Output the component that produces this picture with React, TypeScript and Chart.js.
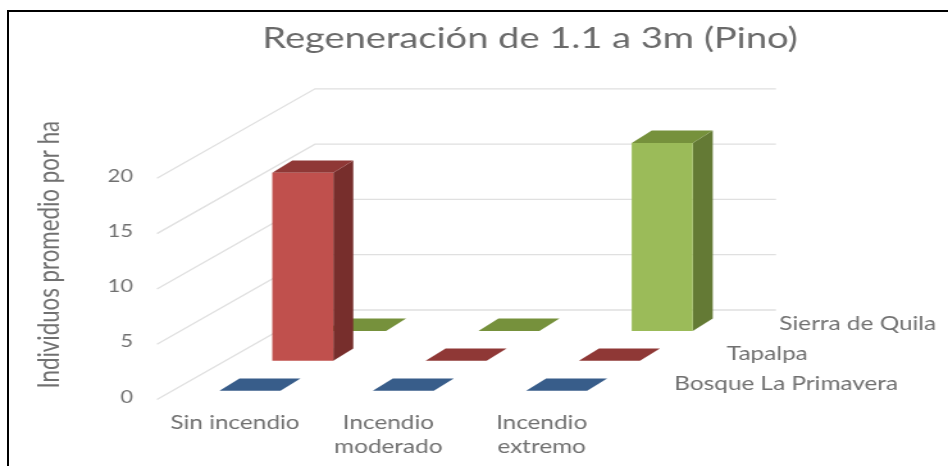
import React, { useEffect, useRef } from "react";
import { Chart, registerables } from "chart.js";

Chart.register(...registerables);

const chartTitle = "Regeneración de 1.1 a 3m (Pino)";
const valueAxisTitle = "Individuos promedio por ha";
const categories = ["Sin incendio", ["Incendio", "moderado"], ["Incendio", "extremo"]];
const seriesNames = ["Bosque La Primavera", "Tapalpa", "Sierra de Quila"];
const primavera = [0, 0, 0];
const tapalpa = [17, 0, 0];
const quila = [0, 0, 17];
const frontColors = ["#4F81BD", "#C0504D", "#9BBB59"];
const topColors = ["#385D8A", "#8F3836", "#76913C"];
const sideColors = ["#2F4E74", "#772E2C", "#647A35"];

// The reference is a horizontally stretched picture: draw narrow, then stretch the canvas.
const LOGICAL_W = 740;
const SX = 948 / LOGICAL_W;
const H = 467;
const lx = (x: number) => x / SX;

const TEXT = "#707070";
const FONT = "Lato";

const ROW_DX = lx(52.8);
const ROW_DY = -29.9;
const FIRST_DX = lx(15);
const FIRST_DY = -6.6;
const DEPTH_X = lx(20);
const DEPTH_Y = 12.3;

const poly = (ctx: CanvasRenderingContext2D, pts: number[][], color: string) => {
  ctx.fillStyle = color;
  ctx.beginPath();
  pts.forEach(([x, y], i) => (i ? ctx.lineTo(x, y) : ctx.moveTo(x, y)));
  ctx.closePath();
  ctx.fill();
};

const perspective = {
  id: "perspective",
  afterLayout(chart: any) {
    const t = chart.titleBlock;
    const c = lx(530);
    t.left = c - 300;
    t.right = c + 300;
  },
  beforeDatasetsDraw(chart: any) {
    const { ctx, scales } = chart;
    const y = scales.y;
    const fx = lx(157);
    const bx = lx(315);
    const ex = lx(776);
    ctx.save();
    ctx.strokeStyle = "#E0E0E0";
    ctx.lineWidth = 1.3;
    y.ticks.forEach((tick: any) => {
      const p = y.getPixelForValue(tick.value) + 2.2;
      ctx.beginPath();
      ctx.moveTo(fx, p);
      ctx.lineTo(bx, p - 89.5);
      ctx.lineTo(ex, p - 89.5);
      ctx.stroke();
    });
    ctx.fillStyle = TEXT;
    ctx.font = `19px ${FONT}`;
    ctx.textAlign = "left";
    ctx.textBaseline = "middle";
    const base = y.getPixelForValue(0);
    seriesNames.forEach((name, r) => {
      ctx.fillText(
        name,
        scales.x.right + lx(56) + r * lx(52.5),
        base + FIRST_DY + r * ROW_DY - 6.7
      );
    });
    ctx.restore();
  },
  beforeDatasetDraw(chart: any, args: any) {
    const { ctx } = chart;
    const r = args.index;
    ctx.save();
    ctx.translate(FIRST_DX + r * ROW_DX, FIRST_DY + r * ROW_DY);
    args.meta.data.forEach((bar: any) => {
      const left = bar.x - bar.width / 2;
      const right = bar.x + bar.width / 2;
      if (bar.base - bar.y > 0) {
        poly(
          ctx,
          [
            [right, bar.y],
            [right, bar.base],
            [right + DEPTH_X, bar.base - DEPTH_Y],
            [right + DEPTH_X, bar.y - DEPTH_Y],
          ],
          sideColors[r]
        );
      }
      poly(
        ctx,
        [
          [left, bar.y],
          [right, bar.y],
          [right + DEPTH_X, bar.y - DEPTH_Y],
          [left + DEPTH_X, bar.y - DEPTH_Y],
        ],
        topColors[r]
      );
    });
  },
  afterDatasetDraw(chart: any) {
    chart.ctx.restore();
  },
};

export default function App() {
  const ref = useRef<HTMLCanvasElement>(null);
  useEffect(() => {
    const series = [primavera, tapalpa, quila];
    const chart = new Chart(ref.current as HTMLCanvasElement, {
      type: "bar",
      data: {
        labels: categories as any,
        datasets: series.map((data, i) => ({
          label: seriesNames[i],
          data,
          backgroundColor: frontColors[i],
          borderWidth: 0,
          grouped: false,
          barPercentage: lx(61) / lx(153.3),
          categoryPercentage: 1,
          clip: false as any,
        })),
      },
      plugins: [perspective],
      options: {
        animation: false,
        responsive: false,
        devicePixelRatio: 1,
        layout: { padding: { left: 0, right: LOGICAL_W - lx(618.3), top: 0, bottom: 0 } },
        plugins: {
          legend: { display: false },
          tooltip: { enabled: false },
          title: {
            display: true,
            text: chartTitle,
            color: "#6A6A6A",
            font: { family: FONT, size: 29.7, weight: "normal", lineHeight: 1.2 },
            padding: { top: 20.7, bottom: 64.5 },
          },
        },
        scales: {
          x: {
            grid: { display: false, drawTicks: false },
            border: { display: false },
            ticks: {
              color: TEXT,
              maxRotation: 0,
              autoSkip: false,
              padding: 13,
              font: { family: FONT, size: 19, lineHeight: 24.5 / 19 },
            },
            afterFit(s: any) {
              s.height = H - 397.3;
            },
          },
          y: {
            min: 0,
            max: 25,
            grid: { display: false, drawTicks: false },
            border: { display: false },
            ticks: {
              stepSize: 5,
              color: TEXT,
              padding: lx(25.3),
              font: { family: FONT, size: 17 },
            },
            afterBuildTicks(s: any) {
              s.ticks = s.ticks.filter((t: any) => t.value <= 20);
            },
            title: {
              display: true,
              text: valueAxisTitle,
              align: "end",
              color: TEXT,
              font: { family: FONT, size: 22.3, lineHeight: 1.2 },
              padding: { top: 25, bottom: 0 },
            },
            afterFit(s: any) {
              s.width = lx(158.3);
            },
          },
        },
      },
    } as any);
    return () => chart.destroy();
  }, []);
  return (
    <div style={{ position: "fixed", left: 0, top: 0, width: 948, height: 467, overflow: "hidden", background: "#fff" }}>
      <canvas
        ref={ref}
        width={LOGICAL_W}
        height={H}
        style={{ transform: `scaleX(${SX})`, transformOrigin: "0 0", filter: "blur(0.6px)" }}
      />
      <div
        style={{
          position: "absolute",
          left: 7,
          top: 10,
          width: 1000,
          height: 456,
          borderLeft: "2px solid #000",
          borderTop: "2px solid #000",
          boxSizing: "border-box",
        }}
      />
    </div>
  );
}
